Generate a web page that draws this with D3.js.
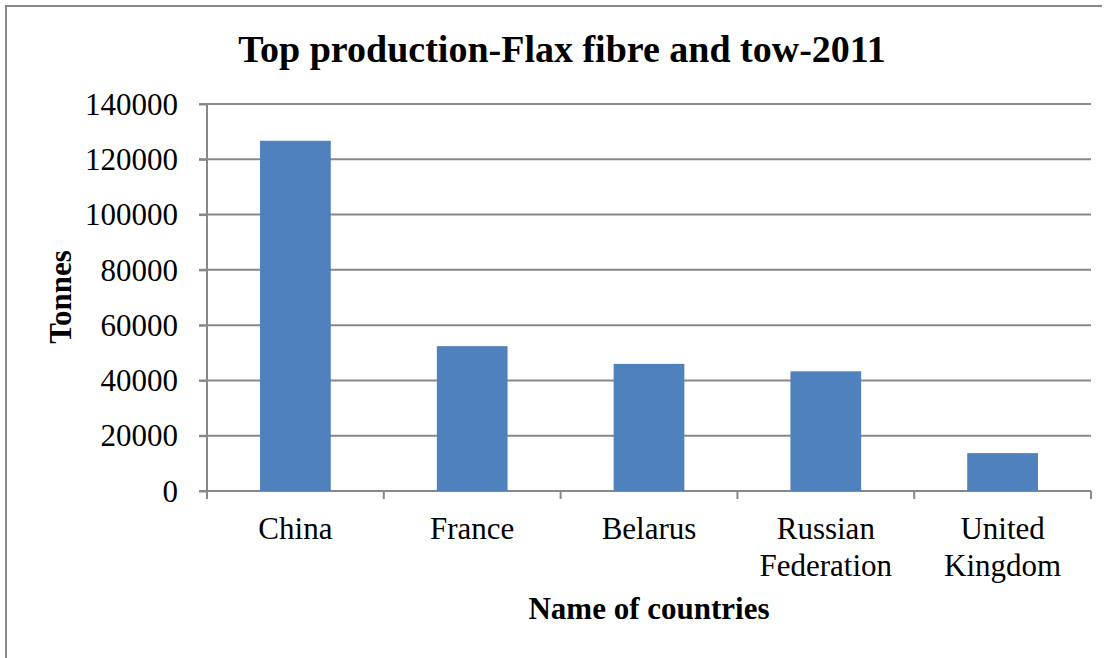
<!DOCTYPE html>
<html><head><meta charset="utf-8">
<script src="https://cdn.jsdelivr.net/npm/d3@7"></script>
<style>body{margin:0;background:#fff}svg{display:block}</style>
</head><body><svg id="c" width="1111" height="658"></svg>
<script>
const categories = [["China"],["France"],["Belarus"],["Russian","Federation"],["United","Kingdom"]];
const values = [126700, 52400, 46000, 43300, 13700];
const yTicks = [0,20000,40000,60000,80000,100000,120000,140000];
const title = "Top production-Flax fibre and tow-2011";
const xTitle = "Name of countries";
const yTitle = "Tonnes";

const svg = d3.select("#c");
const L = 207, R = 1091, T = 104, B = 491;
const font = "'Liberation Serif','Times New Roman',serif";

// border (left and top only, as in the cropped reference)
svg.append("path").attr("d","M6,658 V6 H1102").attr("fill","none").attr("stroke","#898989").attr("stroke-width",2);

const x = d3.scaleBand().domain(categories.map(d=>d.join(" "))).range([L,R]).paddingInner(0.6).paddingOuter(0.3);
const y = d3.scaleLinear().domain([0,140000]).range([B,T]);

// gridlines
svg.append("g").selectAll("line").data(yTicks).join("line")
  .attr("x1",L-8).attr("x2",R).attr("y1",d=>y(d)).attr("y2",d=>y(d))
  .attr("stroke","#888").attr("stroke-width",2);

// y axis
const ya = svg.append("g").attr("transform",`translate(${L},0)`)
  .call(d3.axisLeft(y).tickValues(yTicks).tickSize(8).tickPadding(21).tickFormat(d3.format("d")));
ya.select(".domain").attr("stroke","#888").attr("stroke-width",2).attr("d",`M0,${T}V${B}`);
ya.selectAll(".tick line").attr("stroke","#888").attr("stroke-width",2);
ya.selectAll(".tick text").attr("font-family",font).attr("font-size",31).attr("fill","#000").attr("dy","0.33em");

// x axis line + boundary ticks
const step = x.step();
const bounds = d3.range(categories.length+1).map(i => L + i*step*(1) + (i===0?0:0));
const xa = svg.append("g");
xa.append("line").attr("x1",L).attr("x2",R).attr("y1",B).attr("y2",B).attr("stroke","#888").attr("stroke-width",2);
xa.selectAll("line.tk").data(d3.range(categories.length+1)).join("line").attr("class","tk")
  .attr("x1",i=>L+(R-L)*i/categories.length).attr("x2",i=>L+(R-L)*i/categories.length)
  .attr("y1",B).attr("y2",B+8).attr("stroke","#888").attr("stroke-width",2);

// bars
svg.append("g").selectAll("rect").data(values).join("rect")
  .attr("x",(d,i)=>x(categories[i].join(" "))).attr("width",x.bandwidth())
  .attr("y",d=>y(d)).attr("height",d=>B-y(d))
  .attr("fill","#4F81BD");

// category labels
const cl = svg.append("g").selectAll("text").data(categories).join("text")
  .attr("x",d=>x(d.join(" "))+x.bandwidth()/2).attr("y",539)
  .attr("text-anchor","middle").attr("font-family",font).attr("font-size",31).attr("fill","#000");
cl.selectAll("tspan").data(d=>d).join("tspan")
  .attr("x",function(){return this.parentNode.getAttribute("x");})
  .attr("dy",(d,i)=>i===0?0:37).text(d=>d);

// titles
svg.append("text").attr("x",562).attr("y",62).attr("text-anchor","middle")
  .attr("font-family",font).attr("font-weight","bold").attr("font-size",38).text(title);
svg.append("text").attr("x",649).attr("y",619).attr("text-anchor","middle")
  .attr("font-family",font).attr("font-weight","bold").attr("font-size",31).text(xTitle);
svg.append("text").attr("transform","translate(71,297) rotate(-90)").attr("text-anchor","middle")
  .attr("font-family",font).attr("font-weight","bold").attr("font-size",31).text(yTitle);
</script></body></html>
